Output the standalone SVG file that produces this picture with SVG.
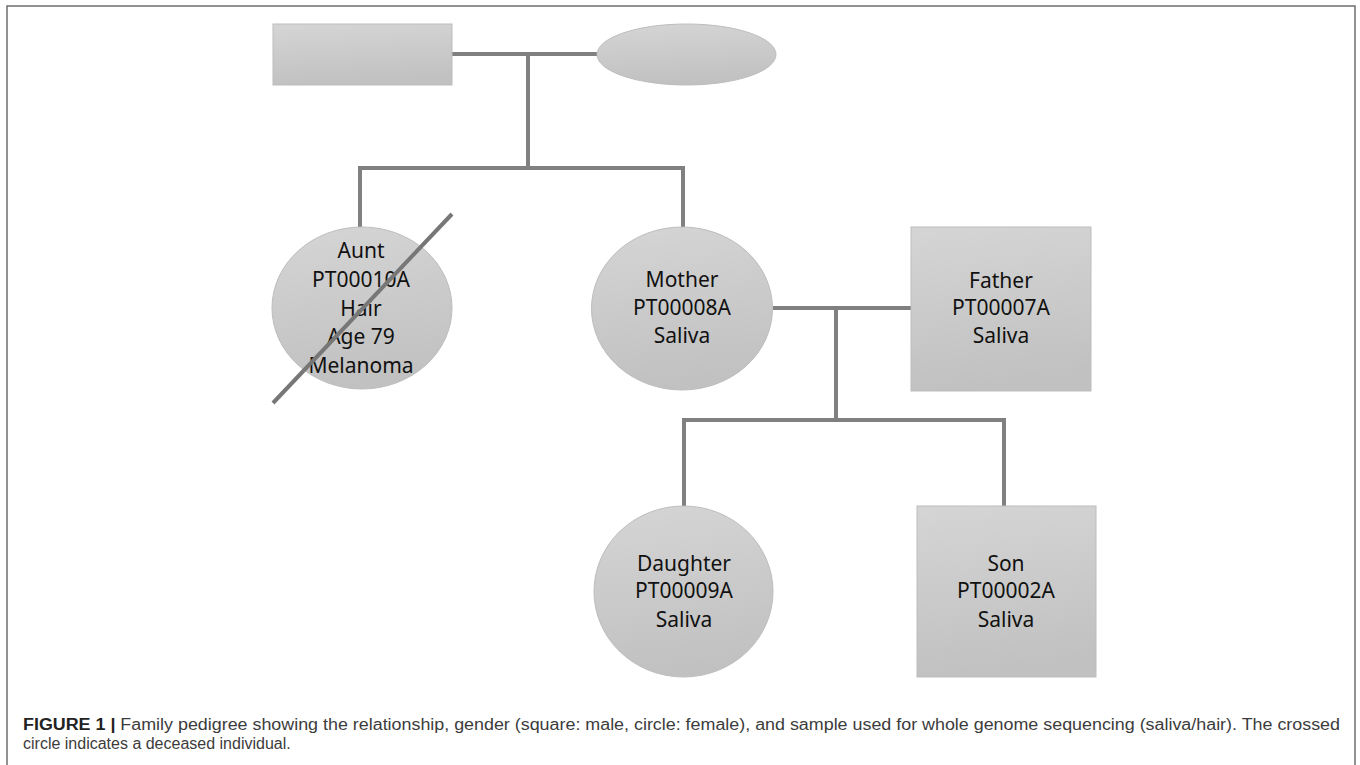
<svg xmlns="http://www.w3.org/2000/svg" width="1360" height="765" viewBox="0 0 1360 765">
<defs>
<linearGradient id="g" x1="0" y1="0" x2="0.15" y2="1">
<stop offset="0" stop-color="#d5d5d5"/>
<stop offset="1" stop-color="#c1c1c1"/>
</linearGradient>
<style>
.n{fill:url(#g);stroke:#bdbdbd;stroke-width:1}
.c{stroke:#808080;stroke-width:4;fill:none}
.t{font-family:"Noto Sans","Open Sans",sans-serif;font-size:21px;fill:#111;text-anchor:middle}
.cap{font-family:"Liberation Sans",Arial,sans-serif;font-size:16px;fill:#3c3c3c}
</style>
</defs>
<rect width="1360" height="765" fill="#fff"/>
<rect x="7" y="6" width="1348" height="780" fill="none" stroke="#6e6e6e" stroke-width="1.5"/>
<g id="connectors">
<path class="c" d="M452 54H597"/>
<path class="c" d="M528 54V168"/>
<path class="c" d="M360 227V168H683V227"/>
<path class="c" d="M773 308H911"/>
<path class="c" d="M836 308V420"/>
<path class="c" d="M684 506V420H1004V506"/>
</g>
<g id="grandfather"><rect class="n" x="273" y="24" width="179" height="61"/></g>
<g id="grandmother"><ellipse class="n" cx="686.5" cy="54.5" rx="89.5" ry="30.5"/></g>
<g id="aunt">
<ellipse class="n" cx="362" cy="308" rx="90" ry="81"/>
<text class="t" x="361" y="258">Aunt</text>
<text class="t" x="361" y="287">PT00010A</text>
<text class="t" x="361" y="315.5">Hair</text>
<text class="t" x="361" y="344">Age 79</text>
<text class="t" x="361" y="372.5">Melanoma</text>
<line x1="273" y1="403" x2="452" y2="214" stroke="#777" stroke-width="4"/>
</g>
<g id="mother">
<ellipse class="n" cx="682" cy="308.5" rx="90.5" ry="81.5"/>
<text class="t" x="682" y="287">Mother</text>
<text class="t" x="682" y="315">PT00008A</text>
<text class="t" x="682" y="343">Saliva</text>
</g>
<g id="father">
<rect class="n" x="911" y="227" width="180" height="164"/>
<text class="t" x="1001" y="288">Father</text>
<text class="t" x="1001" y="315">PT00007A</text>
<text class="t" x="1001" y="343">Saliva</text>
</g>
<g id="daughter">
<ellipse class="n" cx="683.5" cy="591.5" rx="89.5" ry="85.5"/>
<text class="t" x="684" y="571">Daughter</text>
<text class="t" x="684" y="598">PT00009A</text>
<text class="t" x="684" y="627">Saliva</text>
</g>
<g id="son">
<rect class="n" x="917" y="506" width="179" height="171"/>
<text class="t" x="1006" y="571">Son</text>
<text class="t" x="1006" y="598">PT00002A</text>
<text class="t" x="1006" y="627">Saliva</text>
</g>
<g id="caption">
<text class="cap" x="23" y="730" textLength="1317" lengthAdjust="spacingAndGlyphs"><tspan font-weight="bold" fill="#222">FIGURE 1 |</tspan> Family pedigree showing the relationship, gender (square: male, circle: female), and sample used for whole genome sequencing (saliva/hair). The crossed</text>
<text class="cap" x="23" y="749">circle indicates a deceased individual.</text>
</g>
</svg>
